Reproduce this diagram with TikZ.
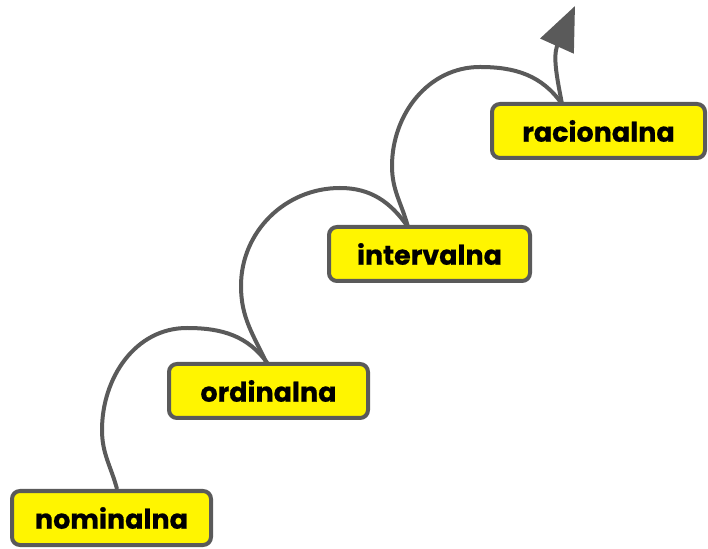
\documentclass[tikz,border=0pt]{standalone}
\usepackage{fontspec}
\setmainfont{Poppins}[BoldFeatures={FakeBold=0.6}]
\usetikzlibrary{arrows.meta}
\definecolor{linegray}{HTML}{5A5A5A}
\definecolor{boxyellow}{HTML}{FFF500}
\begin{document}
\begin{tikzpicture}[x=1pt,y=1pt,
  lvl/.style={draw=linegray, line width=4pt, fill=boxyellow, rounded corners=8pt,
    minimum height=54pt, inner sep=0pt, font=\fontsize{27}{30}\selectfont\bfseries, text=black},
  conn/.style={draw=linegray, line width=4pt}]
\useasboundingbox (0,0) rectangle (708,548);
% connectors
\coordinate (L1) at (102,118);
\coordinate (T1) at (187,220);
\coordinate (L2) at (241,262);
\coordinate (T2) at (340,360);
\coordinate (L3) at (392,382);
\coordinate (T3) at (480,481);
\coordinate (base) at (557,502);
\coordinate (tip) at (575,542);
\draw[conn] (117,59) to[out=105,in=-90] (L1) to[out=90,in=180] (T1) to[out=0,in=125] (268,184);
\draw[conn] (267,184) to[out=115,in=-90] (L2) to[out=90,in=180] (T2) to[out=0,in=125] (408,321);
\draw[conn] (408,321) to[out=105,in=-90] (L3) to[out=90,in=180] (T3) to[out=0,in=125] (562,444);
\draw[conn, -{Triangle[length=44pt,width=36pt]}] (562,444) .. controls (557,470) and (553,490) .. (base) -- (tip);
% boxes
\node[lvl, minimum width=199pt] (nom) at (111.5,30) {nominalna};
\node[lvl, minimum width=199pt] (ord) at (268.5,157) {ordinalna};
\node[lvl, minimum width=201pt] (int) at (429.5,294) {intervalna};
\node[lvl, minimum width=213pt] (rac) at (598.5,417) {racionalna};
\end{tikzpicture}
\end{document}
